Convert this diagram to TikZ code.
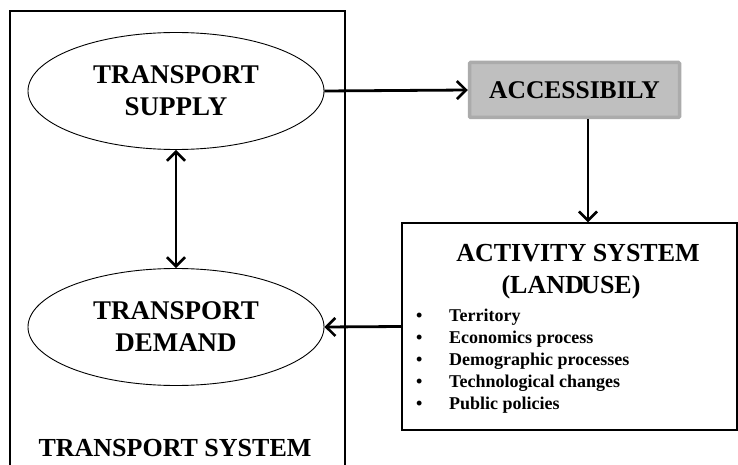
\documentclass[tikz,border=0pt]{standalone}
\usepackage{fontspec}
\setmainfont{Liberation Serif}
\usetikzlibrary{shapes.geometric,arrows.meta}
\begin{document}
\begin{tikzpicture}[x=1pt,y=-1pt,
  tip/.style={},
  arr/.style={line width=2.8pt,-{Straight Barb[length=9pt,width=18pt,line width=2.6pt]}},
  darr/.style={line width=2.8pt,{Straight Barb[length=9pt,width=18pt,line width=2.6pt]}-{Straight Barb[length=9pt,width=18pt,line width=2.6pt]}},
  oval/.style={ellipse,draw,line width=0.9pt,minimum width=296pt,minimum height=117pt,inner sep=0pt,align=center,font=\fontsize{27}{32}\selectfont\bfseries},
  frame/.style={draw,line width=1.4pt},
  title/.style={font=\fontsize{26}{30}\selectfont\bfseries,align=center,inner sep=0pt},
  item/.style={font=\fontsize{18}{20}\selectfont\bfseries,anchor=west,inner sep=0pt}
]
\useasboundingbox (0,0) rectangle (738,465);
\clip (0,0) rectangle (738,465);
% transport system frame
\draw[frame] (10,480) -- (10,11) -- (345,11) -- (345,480);
\node[title] (tsys) at (175,448) {TRANSPORT SYSTEM};
\node[oval] (supply) at (176,91) {TRANSPORT\\SUPPLY};
\node[oval] (demand) at (176,327) {TRANSPORT\\DEMAND};
% accessibility
\node[draw=black!33,fill=black!25,line width=3.5pt,rounded corners=1pt,minimum width=210pt,minimum height=55pt,inner sep=0pt,font=\fontsize{25.5}{28}\selectfont\bfseries] (acc) at (574.5,90) {ACCESSIBILY};
% activity system
\node[frame,minimum width=335pt,minimum height=207pt,inner sep=0pt] (act) at (569.5,326.5) {};
\node[title] (actt) at (578,253) {ACTIVITY SYSTEM};
\node[title] (actl) at (571,287) {(LAND\kern-0.1em USE)};
\foreach \i/\t in {0/Territory,1/Economics process,2/Demographic processes,3/Technological changes,4/Public policies}{
  \node[item] (b\i) at (416,{317+22*\i}) {\textbullet};
  \node[item] (t\i) at (449,{317+22*\i}) {\t};
}
% connectors
\coordinate (m) at (588,0);
\draw[arr] (supply.east) -- (acc.west);
\draw[arr] (acc.south -| m) -- (act.north -| m);
\draw[arr] (act.west) -- (demand.east);
\draw[darr] (supply.south) -- (demand.north);
\end{tikzpicture}
\end{document}
